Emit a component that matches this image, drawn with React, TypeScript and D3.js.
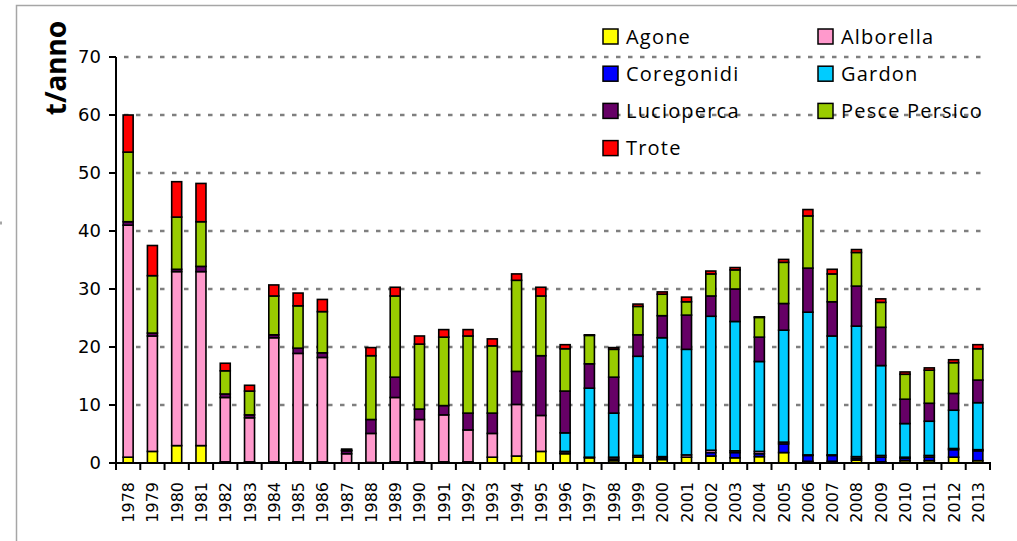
import React, { useEffect, useRef } from 'react';
import * as d3 from 'd3';

const years = [
  '1978', '1979', '1980', '1981', '1982', '1983', '1984', '1985', '1986', '1987', '1988', '1989',
  '1990', '1991', '1992', '1993', '1994', '1995', '1996', '1997', '1998', '1999', '2000', '2001',
  '2002', '2003', '2004', '2005', '2006', '2007', '2008', '2009', '2010', '2011', '2012', '2013',
];

const agone = [1.0, 2.0, 3.0, 3.0, 0.2, 0.2, 0.2, 0.2, 0.2, 0.0, 0.1, 0.2, 0.2, 0.2, 0.2, 1.0, 1.2, 2.0, 1.6, 0.9, 0.4, 1.0, 0.6, 1.0, 1.2, 0.9, 1.1, 1.8, 0.3, 0.3, 0.5, 0.2, 0.4, 0.4, 1.0, 0.4];
const coregonidi = [0, 0, 0, 0, 0, 0, 0, 0, 0, 0, 0, 0, 0, 0, 0, 0, 0, 0, 0.1, 0.0, 0.3, 0.0, 0.3, 0.0, 0.6, 0.9, 0.5, 1.5, 1.0, 1.0, 0.3, 0.8, 0.4, 0.6, 1.3, 1.7];
const alborella = [40.0, 19.9, 30.0, 30.0, 11.1, 7.6, 21.4, 18.7, 18.0, 1.6, 5.0, 11.1, 7.3, 8.1, 5.5, 4.1, 8.9, 6.2, 0.3, 0.1, 0.3, 0.3, 0.2, 0.4, 0.4, 0.3, 0.4, 0.3, 0.1, 0.1, 0.3, 0.3, 0.2, 0.3, 0.2, 0.2];
const gardon = [0, 0, 0, 0, 0, 0, 0, 0, 0, 0, 0, 0, 0, 0, 0, 0, 0, 0, 3.2, 11.9, 7.6, 17.1, 20.5, 18.2, 23.1, 22.3, 15.5, 19.3, 24.6, 20.5, 22.5, 15.5, 5.8, 5.9, 6.6, 8.1];
const lucioperca = [0.6, 0.5, 0.4, 0.9, 0.6, 0.5, 0.5, 0.9, 0.8, 0.5, 2.4, 3.5, 1.8, 1.6, 2.9, 3.5, 5.7, 10.3, 7.2, 4.2, 6.2, 3.7, 3.8, 5.9, 3.5, 5.6, 4.2, 4.6, 7.6, 5.9, 6.9, 6.6, 4.2, 3.1, 2.9, 3.9];
const pescePersico = [12.0, 9.9, 9.0, 7.7, 4.0, 4.1, 6.7, 7.3, 7.1, 0.1, 11.0, 14.0, 11.2, 11.8, 13.3, 11.6, 15.7, 10.3, 7.3, 4.9, 4.8, 4.9, 3.7, 2.3, 3.8, 3.3, 3.4, 7.1, 9.0, 4.8, 5.8, 4.3, 4.3, 5.7, 5.3, 5.4];
const trote = [6.4, 5.2, 6.1, 6.6, 1.3, 1.0, 1.9, 2.2, 2.1, 0.2, 1.4, 1.5, 1.4, 1.3, 1.1, 1.2, 1.1, 1.5, 0.7, 0.1, 0.3, 0.4, 0.4, 0.8, 0.5, 0.4, 0.1, 0.5, 1.1, 0.8, 0.5, 0.6, 0.4, 0.4, 0.5, 0.7];

const seriesNames = ['Agone', 'Coregonidi', 'Alborella', 'Gardon', 'Lucioperca', 'Pesce Persico', 'Trote'];
const seriesValues = [agone, coregonidi, alborella, gardon, lucioperca, pescePersico, trote];
const colors = ['#ffff00', '#0000ff', '#ff99cc', '#00ccff', '#660066', '#99cc00', '#ff0000'];
const yTicks = [0, 10, 20, 30, 40, 50, 60, 70];

// legend layout: two columns, read left to right
const legendOrder = ['Agone', 'Alborella', 'Coregonidi', 'Gardon', 'Lucioperca', 'Pesce Persico', 'Trote'];

export default function App() {
  const ref = useRef<SVGSVGElement>(null);

  useEffect(() => {
    const width = 1017;
    const height = 541;
    const left = 116;
    const right = 990;
    const top = 57;
    const bottom = 463;

    const svg = d3.select(ref.current).attr('width', width).attr('height', height);
    svg.selectAll('*').remove();

    // outer frame
    svg.append('rect')
      .attr('x', 16.5).attr('y', 5.5)
      .attr('width', 1100).attr('height', 700)
      .attr('fill', 'none').attr('stroke', '#a6a6a6').attr('stroke-width', 1.5);
    svg.append('line')
      .attr('x1', 0).attr('x2', 2).attr('y1', 223).attr('y2', 223)
      .attr('stroke', '#a6a6a6').attr('stroke-width', 3);

    const table = years.map((y, i) => {
      const row: any = { year: y };
      seriesNames.forEach((s, j) => { row[s] = seriesValues[j][i]; });
      return row;
    });

    const x = d3.scaleBand().domain(years).range([left, right]).padding(0);
    const y = d3.scaleLinear().domain([0, 70]).range([bottom, top]);
    const barW = 10;

    // gridlines
    svg.append('g')
      .selectAll('line')
      .data(yTicks.filter((d) => d > 0))
      .join('line')
      .attr('x1', left + 8).attr('x2', 982)
      .attr('y1', (d) => y(d)).attr('y2', (d) => y(d))
      .attr('stroke', '#7f7f7f').attr('stroke-width', 2.6)
      .attr('stroke-dasharray', '4.5,7.5');

    const stack = d3.stack().keys(seriesNames)(table);

    svg.append('g')
      .selectAll('g')
      .data(stack)
      .join('g')
      .attr('fill', (d, i) => colors[i])
      .selectAll('rect')
      .data((d) => d.filter((p) => p[1] - p[0] > 0))
      .join('rect')
      .attr('x', (d: any) => (x(d.data.year) as number) + (x.bandwidth() - barW) / 2)
      .attr('y', (d) => y(d[1]))
      .attr('width', barW)
      .attr('height', (d) => y(d[0]) - y(d[1]))
      .attr('stroke', '#000')
      .attr('stroke-width', 1.6);

    // y axis
    const yAxis = svg.append('g');
    yAxis.append('line')
      .attr('x1', left).attr('x2', left).attr('y1', top).attr('y2', bottom + 7)
      .attr('stroke', '#000').attr('stroke-width', 2);
    yAxis.selectAll('line.tick')
      .data(yTicks)
      .join('line')
      .attr('class', 'tick')
      .attr('x1', left - 7).attr('x2', left)
      .attr('y1', (d) => y(d)).attr('y2', (d) => y(d))
      .attr('stroke', '#000').attr('stroke-width', 2);
    yAxis.selectAll('text')
      .data(yTicks)
      .join('text')
      .attr('x', left - 15)
      .attr('y', (d) => y(d))
      .attr('dy', '0.36em')
      .attr('text-anchor', 'end')
      .attr('font-family', 'DejaVu Sans')
      .attr('font-size', 18)
      .text((d) => d);

    // x axis
    const xAxis = svg.append('g');
    xAxis.append('line')
      .attr('x1', left - 7).attr('x2', right + 1).attr('y1', bottom).attr('y2', bottom)
      .attr('stroke', '#000').attr('stroke-width', 2);
    const edges = years.map((d) => x(d) as number).concat([right]);
    xAxis.selectAll('line.tick')
      .data(edges)
      .join('line')
      .attr('class', 'tick')
      .attr('x1', (d) => d).attr('x2', (d) => d)
      .attr('y1', bottom).attr('y2', bottom + 7)
      .attr('stroke', '#000').attr('stroke-width', 2);
    xAxis.selectAll('text')
      .data(years)
      .join('text')
      .attr('transform', (d) => `translate(${(x(d) as number) + x.bandwidth() / 2 + 6},${bottom + 19}) rotate(-90)`)
      .attr('text-anchor', 'end')
      .attr('font-family', 'DejaVu Sans')
      .attr('font-size', 16)
      .text((d) => d);

    // y title
    svg.append('text')
      .attr('transform', 'translate(66,68) rotate(-90)')
      .attr('text-anchor', 'middle')
      .attr('font-family', 'Noto Sans')
      .attr('font-weight', 'bold')
      .attr('font-size', 28)
      .text('t/anno');

    // legend
    const legend = svg.append('g')
      .selectAll('g')
      .data(legendOrder)
      .join('g')
      .attr('transform', (d, i) => `translate(${i % 2 === 0 ? 603 : 818},${36.5 + Math.floor(i / 2) * 37.2})`);
    legend.append('rect')
      .attr('x', 0).attr('y', -7.5)
      .attr('width', 15).attr('height', 15)
      .attr('fill', (d) => colors[seriesNames.indexOf(d)])
      .attr('stroke', '#000').attr('stroke-width', 1.5);
    legend.append('text')
      .attr('x', 23)
      .attr('dy', '0.36em')
      .attr('font-family', 'Open Sans')
      .attr('font-size', 20)
      .attr('letter-spacing', 1.2)
      .text((d) => d);
  }, []);

  return <svg ref={ref} style={{ position: 'absolute', left: 0, top: 0 }}></svg>;
}
